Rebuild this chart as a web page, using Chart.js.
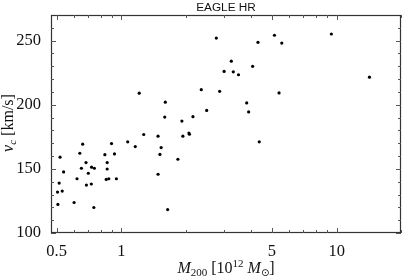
<!DOCTYPE html>
<html>
<head>
<meta charset="utf-8">
<script src="https://cdn.jsdelivr.net/npm/chart.js@4/dist/chart.umd.min.js"></script>
<style>
  html, body { margin: 0; padding: 0; background: #fff; }
  #wrap { width: 405px; height: 279px; }
</style>
</head>
<body>
<div id="wrap"><canvas id="vcChart" width="405" height="279"></canvas></div>
<script>
// halo mass M200 [10^12 Msun] and circular velocity v_c [km/s]
const mass = [2.76, 1.21, 1.60, 1.59, 1.91, 2.15, 2.35, 2.49, 2.86, 3.00,
              3.24, 3.31, 3.50, 3.82, 3.90, 4.07, 4.31, 5.14, 5.40, 5.56,
              9.45, 14.2, 1.27, 1.48, 1.93, 2.06, 2.07, 0.661, 0.90, 1.07,
              1.16, 1.53, 1.51, 1.83, 4.37, 0.519, 0.641, 0.539, 0.652, 0.685,
              0.702, 0.727, 0.749, 0.622, 0.688, 0.725, 0.838, 0.929, 0.859, 0.859,
              0.850, 0.874, 0.948, 1.48, 0.514, 0.531, 0.505, 0.507, 0.603, 0.745,
              1.64];
const vc = [252, 209, 202, 190.4, 187.3, 190.7, 211.8, 195.6, 210.5, 226,
            234, 225.7, 223.4, 201.4, 194.4, 230, 248.7, 254.2, 209.2, 248.1,
            255.2, 221.5, 176.8, 175.5, 175.5, 178, 177, 169.3, 169.7, 171.1,
            167.4, 166.6, 161.3, 157.5, 171.1, 159.1, 162.2, 147.6, 150.5, 154.9,
            146.6, 151.3, 150.5, 142.3, 137.4, 138.2, 161.1, 161.7, 154.9, 149.9,
            141.8, 142.3, 142.3, 145.8, 138.9, 132.7, 131.9, 122.3, 123.8, 119.9,
            118.3];

// axis ticks
const xTicks = [0.5, 1, 5, 10];
const xMinor = [0.6, 0.7, 0.8, 0.9, 2, 3, 4, 6, 7, 8, 9, 20];
const yTicks = [100, 150, 200, 250];
const yMinor = [110, 120, 130, 140, 160, 170, 180, 190, 210, 220, 230, 240, 260];

const serif = '"Liberation Serif", "Times New Roman", serif';

// draws a run of text pieces (regular / italic / sub / sup) centred at 0
function drawRuns(ctx, runs, cx, base) {
  let w = 0;
  runs.forEach(r => { ctx.font = r.f; w += ctx.measureText(r.t).width; });
  let x = cx - w / 2;
  runs.forEach(r => {
    ctx.font = r.f;
    ctx.fillText(r.t, x, base + (r.dy || 0));
    x += ctx.measureText(r.t).width;
  });
}

const framePlugin = {
  id: 'frame',
  afterDraw(chart) {
    const { ctx, chartArea: a, scales } = chart;
    const sx = scales.x, sy = scales.y;
    ctx.save();
    ctx.strokeStyle = '#333';
    ctx.lineWidth = 1.2;
    ctx.strokeRect(a.left + 0.5, a.top + 0.5, a.right - a.left - 1, a.bottom - a.top - 1);

    ctx.lineWidth = 1;
    ctx.strokeStyle = '#555';
    const tickX = (v, len) => {
      const p = Math.round(sx.getPixelForValue(v)) + 0.5;
      ctx.beginPath();
      ctx.moveTo(p, a.bottom); ctx.lineTo(p, a.bottom - len);
      ctx.moveTo(p, a.top); ctx.lineTo(p, a.top + len);
      ctx.stroke();
    };
    const tickY = (v, len) => {
      const p = Math.round(sy.getPixelForValue(v)) + 0.5;
      ctx.beginPath();
      ctx.moveTo(a.left, p); ctx.lineTo(a.left + len, p);
      ctx.moveTo(a.right, p); ctx.lineTo(a.right - len, p);
      ctx.stroke();
    };
    xTicks.forEach(v => tickX(v, 5));
    xMinor.forEach(v => tickX(v, 3));
    yTicks.forEach(v => tickY(v, 5));
    yMinor.forEach(v => tickY(v, 3));

    // title
    ctx.fillStyle = '#111';
    ctx.textBaseline = 'alphabetic';
    ctx.save();
    const cx = (a.left + a.right) / 2;
    ctx.translate(cx, 0);
    ctx.scale(1.18, 1);
    ctx.font = '10px "Liberation Sans", Arial, sans-serif';
    ctx.textAlign = 'center';
    ctx.fillText('EAGLE HR', 0, 10.5);
    ctx.restore();

    // x axis title
    ctx.textAlign = 'left';
    drawRuns(ctx, [
      { t: 'M', f: 'italic 16px ' + serif },
      { t: '200', f: '11px ' + serif, dy: 3 },
      { t: ' [10', f: '16px ' + serif },
      { t: '12', f: '11px ' + serif, dy: -6 },
      { t: ' ', f: '16px ' + serif },
      { t: 'M', f: 'italic 16px ' + serif },
      { t: '\u2299', f: '10px "DejaVu Sans", sans-serif', dy: 3 },
      { t: ']', f: '16px ' + serif }
    ], cx, 273);

    // y axis title
    ctx.save();
    ctx.translate(12.5, (a.top + a.bottom) / 2 - 1);
    ctx.rotate(-Math.PI / 2);
    drawRuns(ctx, [
      { t: 'v', f: 'italic 16px ' + serif },
      { t: 'c', f: 'italic 11px ' + serif, dy: 3 },
      { t: ' [km/s]', f: '16px ' + serif }
    ], 0, 0);
    ctx.restore();
    ctx.restore();
  }
};

new Chart(document.getElementById('vcChart').getContext('2d'), {
  type: 'scatter',
  data: {
    datasets: [{
      data: mass.map((m, i) => ({ x: m, y: vc[i] })),
      backgroundColor: '#000',
      borderColor: '#000',
      pointRadius: 1.6,
      pointBorderWidth: 0
    }]
  },
  options: {
    responsive: false,
    animation: false,
    layout: { padding: { top: 15, right: 1, left: 0, bottom: 0 } },
    plugins: { legend: { display: false }, tooltip: { enabled: false }, title: { display: false } },
    scales: {
      x: {
        type: 'logarithmic',
        min: 0.471, max: 19.9,
        grid: { display: false },
        border: { display: false },
        afterBuildTicks: s => { s.ticks = xTicks.map(v => ({ value: v })); },
        afterFit: s => { s.height = 46; },
        ticks: {
          autoSkip: false, maxRotation: 0, padding: 1,
          color: '#111', font: { family: serif, size: 16.5 },
          callback: v => String(v)
        }
      },
      y: {
        min: 100, max: 270,
        grid: { display: false },
        border: { display: false },
        afterBuildTicks: s => { s.ticks = yTicks.map(v => ({ value: v })); },
        afterFit: s => { s.width = 51; },
        ticks: {
          padding: 2,
          color: '#111', font: { family: serif, size: 16.5 },
          callback: v => String(v)
        }
      }
    }
  },
  plugins: [framePlugin]
});
</script>
</body>
</html>
